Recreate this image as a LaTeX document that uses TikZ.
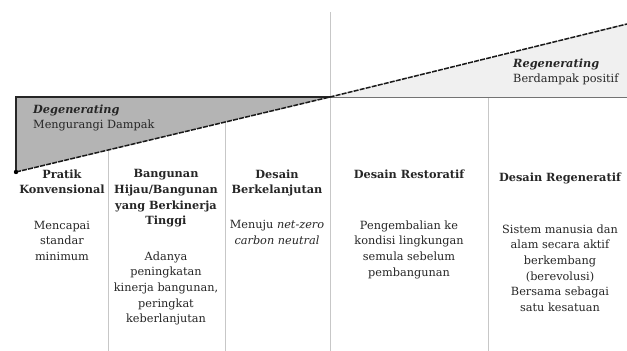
\documentclass[tikz,border=0pt]{standalone}
\usepackage{fontspec}
\setmainfont{DejaVu Serif}
\begin{document}
\begin{tikzpicture}[x=1pt,y=-1pt,
  every node/.style={text=txt, inner sep=0pt},
  body/.style={font=\fontsize{11.3}{15.6}\selectfont, align=center, anchor=north},
  head/.style={body, font=\fontsize{11.3}{15.6}\selectfont\bfseries},
  colline/.style={draw=black!22, line width=0.6pt},
  edge/.style={draw=black!85, line width=1.4pt},
  diag/.style={draw=black!90, line width=1.5pt, dashed, dash pattern=on 5pt off 1.2pt}]
\definecolor{txt}{HTML}{262626}
\definecolor{darkfill}{HTML}{B4B4B4}
\definecolor{lightfill}{HTML}{F0F0F0}
\useasboundingbox (0,0) rectangle (627,351);
\fill[white] (0,0) rectangle (627,351);
\coordinate (tl) at (16,97);
\coordinate (bl) at (16,172);
\coordinate (mid) at (330,97);
\coordinate (tr) at (627,24);
\coordinate (br) at (627,97);
\fill[darkfill] (tl) -- (mid) -- (bl) -- cycle;
\fill[lightfill] (mid) -- (br) -- (tr) -- cycle;
% column lines
\draw[colline] (108,150) -- (108,351);
\draw[colline] (225,122) -- (225,351);
\draw[colline] (330,12) -- (330,351);
\draw[colline] (488,97) -- (488,351);
\draw[edge] (bl) -- (tl) -- (mid);
\draw[draw=black!55, line width=1pt] (mid) -- (br);
\draw[diag] (bl) -- (mid) -- (tr);
\fill[black] (bl) circle (2.2pt);
% labels
\node[anchor=base west, font=\fontsize{11.3}{15}\selectfont\bfseries\itshape] (deg) at (33,113) {Degenerating};
\node[anchor=base west, font=\fontsize{11.3}{15}\selectfont] (degs) at (33,128) {Mengurangi Dampak};
\node[anchor=base west, font=\fontsize{11.3}{15}\selectfont\bfseries\itshape] (reg) at (513,67) {Regenerating};
\node[anchor=base west, font=\fontsize{11.3}{15}\selectfont] (regs) at (513,82) {Berdampak positif};
% columns
\node[head] (h1) at (62,169.5) {Pratik\\Konvensional};
\node[body] (b1) at (62,220.5) {Mencapai\\standar\\minimum};
\node[head] (h2) at (166,169.5) {Bangunan\\Hijau/Bangunan\\yang Berkinerja\\Tinggi};
\node[body] (b2) at (166,251.5) {Adanya\\peningkatan\\kinerja bangunan,\\peringkat\\keberlanjutan};
\node[head] (h3) at (277,169.5) {Desain\\Berkelanjutan};
\node[body] (b3) at (277,220) {Menuju \textit{net-zero}\\\textit{carbon neutral}};
\node[head] (h4) at (409,169.5) {Desain Restoratif};
\node[body] (b4) at (409,220.5) {Pengembalian ke\\kondisi lingkungan\\semula sebelum\\pembangunan};
\node[head] (h5) at (560,172.5) {Desain Regeneratif};
\node[body] (b5) at (560,224.5) {Sistem manusia dan\\alam secara aktif\\berkembang\\(berevolusi)\\Bersama sebagai\\satu kesatuan};
\end{tikzpicture}
\end{document}
